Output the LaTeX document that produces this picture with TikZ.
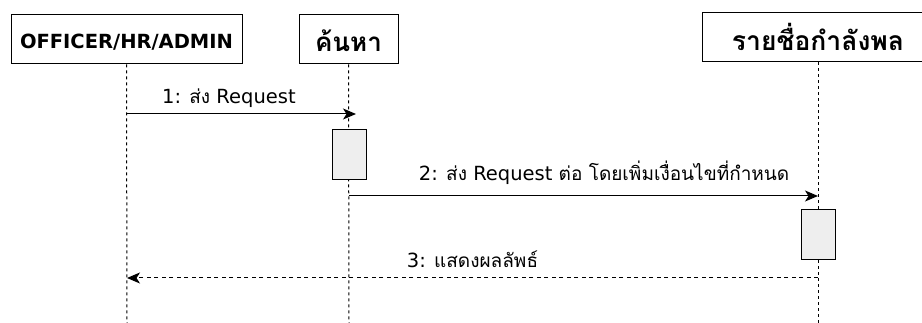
\documentclass[tikz,border=0pt]{standalone}
\usepackage{fontspec}
\newfontfamily\thaifont[Script=Thai]{Loma}
\newfontfamily\latinfont{DejaVu Sans}
\newcommand{\thaitext}[1]{{\thaifont\fontsize{19}{22}\selectfont #1}}
\usetikzlibrary{arrows.meta}
\usetikzlibrary{positioning}
\definecolor{actfill}{RGB}{238,238,238}

\tikzset{
  actor/.style={draw, line width=1pt, minimum height=49pt, inner sep=0pt, text depth=0pt},
  activation/.style={draw, line width=1pt, fill=actfill, minimum width=34pt, minimum height=50pt, inner sep=0pt},
  lifeline/.style={line width=1pt, dash pattern=on 3pt off 3pt},
  call/.style={line width=1pt, -{Stealth[length=13pt,width=11pt,inset=3.5pt]}},
  reply/.style={line width=1pt, dash pattern=on 4pt off 3.5pt, -{Stealth[length=13pt,width=11pt,inset=3.5pt]}},
  msg/.style={font=\latinfont\fontsize{19.5}{22}\selectfont, anchor=base, inner sep=0pt, yshift=10.5pt},
}

\begin{document}
\begin{tikzpicture}[x=1pt, y=-1pt]
			\useasboundingbox (0,0) rectangle (922,323);
			\clip (0,0) rectangle (922,323);
			% heads
			\node [actor, minimum width=231pt, text height=19pt, font=\latinfont\bfseries\fontsize{19.5}{22}\selectfont] (officer) at (126.5,39.5) {OFFICER/HR/ADMIN};
			\node [actor, minimum width=99pt, text height=25pt, font=\thaifont\bfseries\fontsize{26}{28}\selectfont] (search) at (348.5,39.5) {ค้นหา};
			\node [actor, minimum width=232pt, text height=27pt, font=\thaifont\bfseries\fontsize{26.5}{28}\selectfont] (roster) at (818,37.5) {รายชื่อกำลังพล};
			% lifelines
			\coordinate (officerend) at (127,323);
			\coordinate (searchend) at (349,323);
			\coordinate (rosterend) at (818,323);
			\draw [lifeline] (officer.south) -- (officerend);
			\draw [lifeline] (search.south) -- (searchend);
			\draw [lifeline] (roster.south) -- (rosterend);
			% activations
			\node [activation] (searchact) at (349,155) {};
			\node [activation] (rosteract) at (818,235) {};
			% messages
			\coordinate (m1a) at (127,114);
			\coordinate (m1b) at (356,114);
			\coordinate (m2a) at (349,196);
			\coordinate (m2b) at (818,196);
			\coordinate (m3a) at (818,278);
			\coordinate (m3b) at (127,278);
			\draw [call] (m1a) -- node [msg, pos=0.445] (m1label) {1: \thaitext{ส่ง} Request} (m1b);
			\draw [call] (m2a) -- node [msg, pos=0.544, yshift=4.5pt] (m2label) {2: \thaitext{ส่ง} Request \thaitext{ต่อ โดยเพิ่มเงื่อนไขที่กำหนด}} (m2b);
			\draw [reply] (m3a) -- node [msg, pos=0.5] (m3label) {3: \thaitext{แสดงผลลัพธ์}} (m3b);
	\end{tikzpicture}
\end{document}
